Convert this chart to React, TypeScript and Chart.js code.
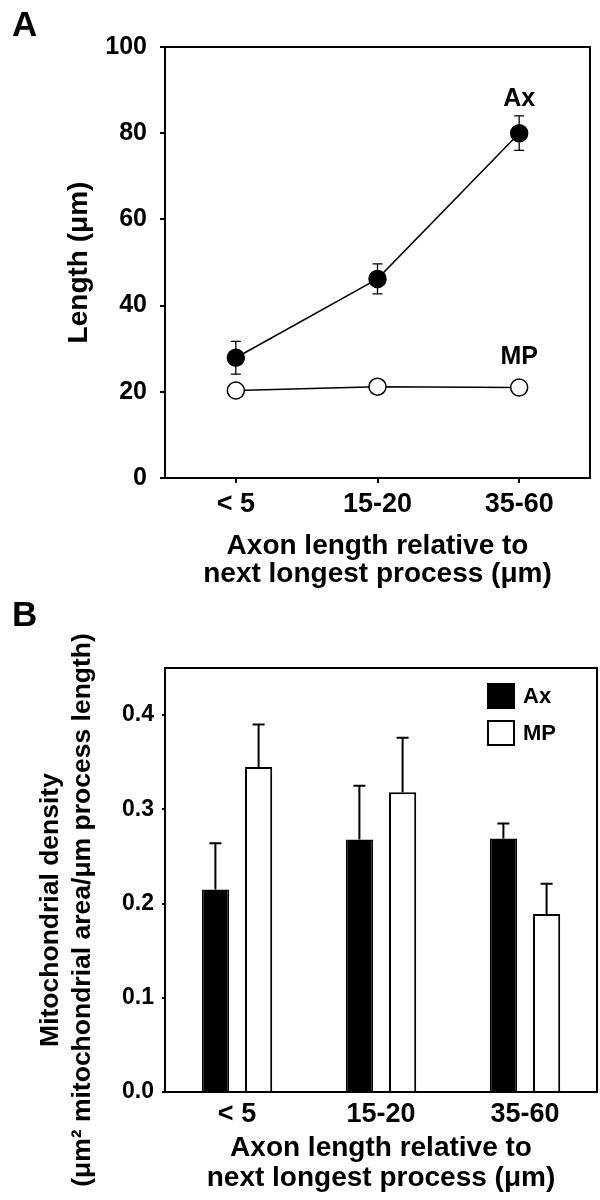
import React, { useEffect, useRef } from "react";
import { Chart, registerables } from "chart.js";

Chart.register(...registerables);

// ---------- data ----------
const categories = ["< 5", "15-20", "35-60"];
const seriesNames = ["Ax", "MP"];

// Panel A: process length (µm)
const axLength = [27.9, 46.2, 80.0];
const axLengthErr = [3.8, 3.5, 4.0];
const mpLength = [20.3, 21.2, 21.0];
const lengthTicks = [0, 20, 40, 60, 80, 100];

// Panel B: mitochondrial density
const axDensity = [0.215, 0.268, 0.269];
const axDensityErr = [0.049, 0.057, 0.016];
const mpDensity = [0.345, 0.318, 0.189];
const mpDensityErr = [0.045, 0.058, 0.032];
const densityTicks = [0, 0.1, 0.2, 0.3, 0.4];

const xTitle = ["Axon length relative to", "next longest process (μm)"];
const yTitleA = "Length (μm)";
const yTitleB = ["Mitochondrial density", "(μm² mitochondrial area/μm process length)"];

const FONT = "'Liberation Sans', Arial, Helvetica, sans-serif";

export default function App() {
  const refA = useRef<HTMLCanvasElement>(null);
  const refB = useRef<HTMLCanvasElement>(null);

  useEffect(() => {
    const charts: Chart[] = [];

    const panelA = {
      id: "panelA",
      beforeDatasetsDraw(chart: any) {
        const { ctx, scales } = chart;
        const y = scales.y;
        const meta = chart.getDatasetMeta(0);
        ctx.save();
        ctx.strokeStyle = "#000";
        ctx.lineWidth = 1.3;
        axLength.forEach((v, i) => {
          const px = meta.data[i].x;
          const yt = y.getPixelForValue(v + axLengthErr[i]);
          const yb = y.getPixelForValue(v - axLengthErr[i]);
          ctx.beginPath();
          ctx.moveTo(px, yt);
          ctx.lineTo(px, yb);
          ctx.moveTo(px - 5, yt);
          ctx.lineTo(px + 5, yt);
          ctx.moveTo(px - 5, yb);
          ctx.lineTo(px + 5, yb);
          ctx.stroke();
        });
        ctx.restore();
      },
      afterDraw(chart: any) {
        const { ctx, chartArea: a, scales } = chart;
        ctx.save();
        ctx.strokeStyle = "#000";
        ctx.lineWidth = 2;
        ctx.strokeRect(a.left, a.top, a.right - a.left, a.bottom - a.top);
        ctx.fillStyle = "#000";
        ctx.font = `bold 25px ${FONT}`;
        ctx.textAlign = "center";
        ctx.textBaseline = "middle";
        const lx = scales.x.getPixelForValue(2);
        ctx.fillText(seriesNames[0], lx, scales.y.getPixelForValue(88));
        ctx.fillText(seriesNames[1], lx, scales.y.getPixelForValue(28));
        ctx.font = `bold 35px ${FONT}`;
        ctx.textAlign = "left";
        ctx.textBaseline = "alphabetic";
        ctx.fillText("A", 12, 36);
        ctx.restore();
      },
    };

    const panelB = {
      id: "panelB",
      afterDatasetsDraw(chart: any) {
        const { ctx, scales } = chart;
        const y = scales.y;
        const sets = [
          [axDensity, axDensityErr],
          [mpDensity, mpDensityErr],
        ];
        ctx.save();
        ctx.strokeStyle = "#000";
        ctx.lineWidth = 2;
        sets.forEach(([vals, errs], d) => {
          const meta = chart.getDatasetMeta(d);
          vals.forEach((v: number, i: number) => {
            const px = meta.data[i].x;
            const y0 = y.getPixelForValue(v);
            const yt = y.getPixelForValue(v + errs[i]);
            ctx.beginPath();
            ctx.moveTo(px, y0);
            ctx.lineTo(px, yt);
            ctx.moveTo(px - 6, yt);
            ctx.lineTo(px + 6, yt);
            ctx.stroke();
          });
        });
        ctx.restore();
      },
      afterDraw(chart: any) {
        const { ctx, chartArea: a } = chart;
        ctx.save();
        ctx.strokeStyle = "#000";
        ctx.lineWidth = 2;
        ctx.strokeRect(a.left, a.top, a.right - a.left, a.bottom - a.top);

        // legend
        const fills = ["#000", "#fff"];
        ctx.font = `bold 22px ${FONT}`;
        ctx.textAlign = "left";
        ctx.textBaseline = "middle";
        seriesNames.forEach((name, i) => {
          const bx = a.right - 109;
          const by = a.top + 16 + i * 37;
          ctx.fillStyle = fills[i];
          ctx.fillRect(bx, by, 26, 24);
          ctx.lineWidth = 2;
          ctx.strokeStyle = "#000";
          ctx.strokeRect(bx, by, 26, 24);
          ctx.fillStyle = "#000";
          ctx.fillText(name, bx + 35, by + 13);
        });

        // y-axis title (two lines)
        ctx.fillStyle = "#000";
        ctx.font = `bold 26.5px ${FONT}`;
        ctx.textAlign = "center";
        ctx.textBaseline = "middle";
        const cy = (a.top + a.bottom) / 2 + 30;
        [51, 83].forEach((tx, i) => {
          ctx.save();
          ctx.translate(tx, cy);
          ctx.rotate(-Math.PI / 2);
          ctx.fillText(yTitleB[i], 0, 0);
          ctx.restore();
        });

        ctx.font = `bold 35px ${FONT}`;
        ctx.textAlign = "left";
        ctx.textBaseline = "alphabetic";
        ctx.fillText("B", 12, 26);
        ctx.restore();
      },
    };

    const tickFontX = { size: 27, weight: "bold" as const, family: FONT };
    const titleFont = { size: 28, weight: "bold" as const, family: FONT, lineHeight: 1 };

    if (refA.current) {
      charts.push(
        new Chart(refA.current, {
          type: "line",
          data: {
            labels: categories,
            datasets: [
              {
                label: seriesNames[0],
                data: axLength,
                borderColor: "#000",
                borderWidth: 1.5,
                backgroundColor: "#000",
                pointBackgroundColor: "#000",
                pointBorderColor: "#000",
                pointBorderWidth: 1.5,
                pointRadius: 8.5,
                tension: 0,
              },
              {
                label: seriesNames[1],
                data: mpLength,
                borderColor: "#000",
                borderWidth: 1.5,
                backgroundColor: "#fff",
                pointBackgroundColor: "#fff",
                pointBorderColor: "#000",
                pointBorderWidth: 1.5,
                pointRadius: 8.5,
                tension: 0,
              },
            ],
          },
          options: {
            responsive: false,
            animation: false,
            events: [],
            layout: { padding: { left: 0, top: 47, right: 4, bottom: 0 } },
            plugins: { legend: { display: false }, tooltip: { enabled: false } },
            scales: {
              x: {
                type: "category",
                offset: true,
                afterFit(s: any) {
                  s.height = 122;
                },
                grid: {
                  display: true,
                  drawOnChartArea: false,
                  drawTicks: true,
                  tickLength: 5,
                  color: "#000",
                  lineWidth: 2,
                  offset: false,
                },
                border: { display: true, color: "#000", width: 2 },
                ticks: { font: tickFontX, color: "#000", padding: 5, maxRotation: 0 },
                title: {
                  display: true,
                  text: xTitle,
                  font: titleFont,
                  color: "#000",
                  padding: { top: 0, bottom: 12 },
                },
              },
              y: {
                min: 0,
                max: 100,
                afterFit(s: any) {
                  s.width = 165;
                },
                afterBuildTicks(s: any) {
                  s.ticks = lengthTicks.map((v) => ({ value: v }));
                },
                grid: {
                  display: true,
                  drawOnChartArea: false,
                  drawTicks: true,
                  tickLength: 5,
                  color: "#000",
                  lineWidth: 2,
                },
                border: { display: true, color: "#000", width: 2 },
                ticks: {
                  font: { size: 25, weight: "bold", family: FONT },
                  color: "#000",
                  padding: 13,
                },
                title: {
                  display: true,
                  text: yTitleA,
                  font: titleFont,
                  color: "#000",
                  padding: { top: 65, bottom: 0 },
                },
              },
            },
          },
          plugins: [panelA],
        } as any)
      );
    }

    if (refB.current) {
      charts.push(
        new Chart(refB.current, {
          type: "bar",
          data: {
            labels: categories,
            datasets: [
              {
                label: seriesNames[0],
                data: axDensity,
                backgroundColor: "#000",
                borderColor: "#000",
                borderWidth: 1.5,
                categoryPercentage: 0.6,
                barPercentage: 0.63,
              },
              {
                label: seriesNames[1],
                data: mpDensity,
                backgroundColor: "#fff",
                borderColor: "#000",
                borderWidth: 2,
                categoryPercentage: 0.6,
                barPercentage: 0.63,
              },
            ],
          },
          options: {
            responsive: false,
            animation: false,
            events: [],
            layout: { padding: { left: 0, top: 68, right: 3, bottom: 0 } },
            plugins: { legend: { display: false }, tooltip: { enabled: false } },
            scales: {
              x: {
                type: "category",
                afterFit(s: any) {
                  s.height = 108;
                },
                grid: { display: false },
                border: { display: true, color: "#000", width: 2 },
                ticks: { font: tickFontX, color: "#000", padding: -2, maxRotation: 0 },
                title: {
                  display: true,
                  text: xTitle,
                  font: { ...titleFont, lineHeight: 30 / 28 },
                  color: "#000",
                  padding: { top: 0, bottom: 7 },
                },
              },
              y: {
                min: 0,
                max: 0.45,
                afterFit(s: any) {
                  s.width = 165;
                },
                afterBuildTicks(s: any) {
                  s.ticks = densityTicks.map((v) => ({ value: v }));
                },
                grid: {
                  display: true,
                  drawOnChartArea: false,
                  drawTicks: true,
                  tickLength: 3,
                  color: "#000",
                  lineWidth: 2,
                },
                border: { display: true, color: "#000", width: 2 },
                ticks: {
                  font: { size: 23, weight: "bold", family: FONT },
                  color: "#000",
                  padding: 8,
                  callback: (v: any) => Number(v).toFixed(1),
                },
              },
            },
          },
          plugins: [panelB],
        } as any)
      );
    }

    return () => charts.forEach((c) => c.destroy());
  }, []);

  return (
    <div
      style={{
        position: "absolute",
        left: 0,
        top: 0,
        width: 600,
        height: 1200,
        background: "#fff",
      }}
    >
      <canvas ref={refA} width={600} height={600} style={{ display: "block", width: 600, height: 600 }} />
      <canvas ref={refB} width={600} height={600} style={{ display: "block", width: 600, height: 600 }} />
    </div>
  );
}
